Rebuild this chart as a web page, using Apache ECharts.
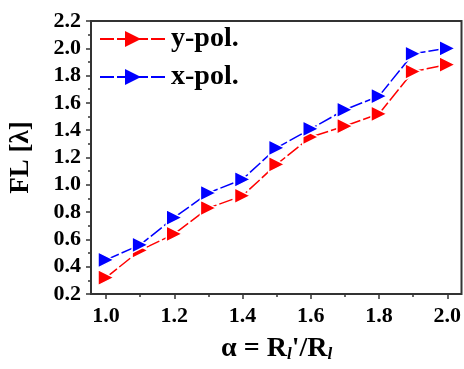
<!DOCTYPE html>
<html><head><meta charset="utf-8">
<script src="https://cdn.jsdelivr.net/npm/echarts@6/dist/echarts.min.js"></script>
<style>html,body{margin:0;padding:0;background:#fff}#c{width:464px;height:369px}</style>
</head><body><div id="c"></div>
<script>
const alpha = [1.0, 1.1, 1.2, 1.3, 1.4, 1.5, 1.6, 1.7, 1.8, 1.9, 2.0];
const yPol = [0.32, 0.52, 0.64, 0.83, 0.92, 1.15, 1.35, 1.43, 1.52, 1.83, 1.88];
const xPol = [0.45, 0.56, 0.76, 0.94, 1.04, 1.27, 1.41, 1.55, 1.65, 1.96, 2.00];
const yTicks = [0.2, 0.4, 0.6, 0.8, 1.0, 1.2, 1.4, 1.6, 1.8, 2.0, 2.2];
const xTicks = [1.0, 1.2, 1.4, 1.6, 1.8, 2.0];

const FONT = '"Liberation Serif", "Times New Roman", serif';
const chart = echarts.init(document.getElementById('c'));
function pts(v){ return alpha.map((a,i)=>[a, v[i]]); }
const common = {
  type:'line', symbol:'triangle', symbolRotate:-90, symbolSize:16,
  itemStyle:{borderColor:'#fff', borderWidth:1.5},
  lineStyle:{width:1.5, type:[14,3]}, animation:false
};
chart.setOption({
  animation:false,
  grid:{left:106, right:15.7, top:21, bottom:75},
  graphic:[{type:'rect', shape:{x:91, y:21, width:370.5, height:273}, style:{fill:'none', stroke:'#333', lineWidth:2}, z:10}],
  legend:{
    left:94, top:20, orient:'vertical', itemWidth:66, itemHeight:20, itemGap:10,
    itemStyle:{borderWidth:0},
    textStyle:{fontFamily:FONT, fontWeight:'bold', fontSize:28, color:'#000', lineHeight:20},
    data:['y-pol.','x-pol.']
  },
  xAxis:{
    type:'value', min:xTicks[0], max:xTicks[xTicks.length-1], interval:0.2,
    axisLine:{show:false},
    axisTick:{show:true, length:5, lineStyle:{color:'#333', width:1.5}},
    minorTick:{show:true, splitNumber:2, length:3, lineStyle:{color:'#333', width:1.5}},
    splitLine:{show:false},
    axisLabel:{fontFamily:FONT, fontWeight:'bold', fontSize:22, color:'#000', margin:11,
      formatter:v=>v.toFixed(1)},
    name:'{a|α = R}{s|l}{a|\'/R}{s|l}', nameLocation:'middle', nameGap:34,
    nameTextStyle:{rich:{
      a:{fontFamily:FONT, fontWeight:'bold', fontSize:28, color:'#000', verticalAlign:'bottom', lineHeight:30},
      s:{fontFamily:FONT, fontWeight:'bold', fontStyle:'italic', fontSize:17, color:'#000', verticalAlign:'bottom', lineHeight:30, padding:[14,0,0,0]}
    }}
  },
  yAxis:{
    type:'value', min:yTicks[0], max:yTicks[yTicks.length-1], interval:0.2, offset:15,
    axisLine:{show:false},
    axisTick:{show:true, length:5, lineStyle:{color:'#333', width:1.5}},
    minorTick:{show:true, splitNumber:2, length:3, lineStyle:{color:'#333', width:1.5}},
    splitLine:{show:false},
    axisLabel:{fontFamily:FONT, fontWeight:'bold', fontSize:22, color:'#000', margin:10,
      formatter:v=>v.toFixed(1)},
    name:'FL [λ]', nameLocation:'middle', nameGap:56, nameRotate:90,
    nameTextStyle:{fontFamily:FONT, fontWeight:'bold', fontSize:27, color:'#000'}
  },
  series:[
    Object.assign({}, common, {name:'y-pol.', data:pts(yPol), color:'#ff0000', z:2}),
    Object.assign({}, common, {name:'x-pol.', data:pts(xPol), color:'#0000ff', z:3})
  ]
});
</script></body></html>
